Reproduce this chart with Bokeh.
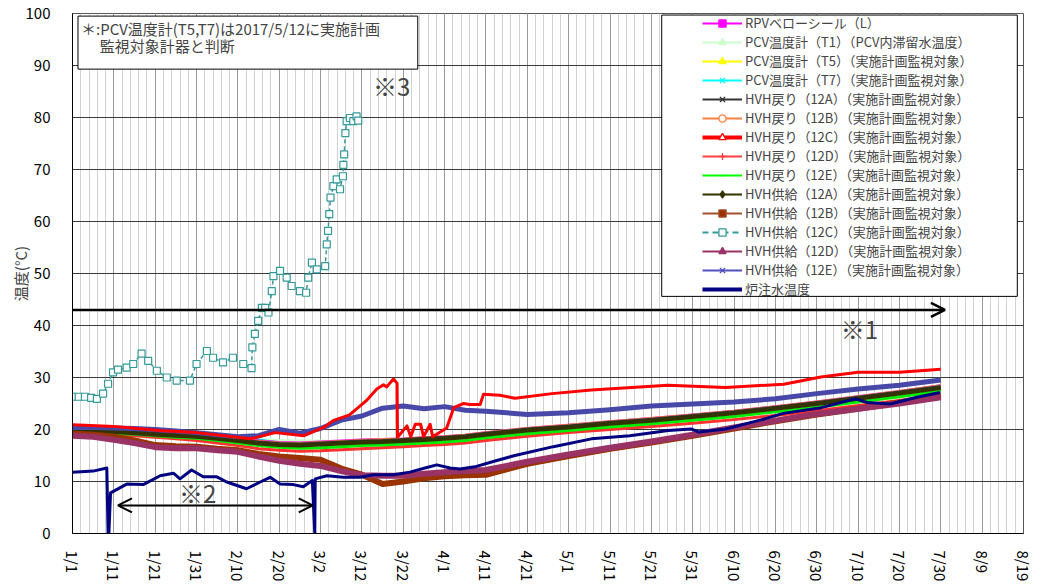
import math
from bokeh.plotting import figure
from bokeh.models import (Range1d, FixedTicker, Legend, LegendItem, BoxAnnotation,
                          Label, Arrow, OpenHead)
from bokeh.embed import file_html
from bokeh.resources import INLINE

FONT = "Noto Sans CJK JP"
NAN = float("nan")

# ---- axis ticks (days since 1/1) ----
tick_days = list(range(0, 231, 10))
tick_labels = ["1/1", "1/11", "1/21", "1/31", "2/10", "2/20", "3/2", "3/12", "3/22",
               "4/1", "4/11", "4/21", "5/1", "5/11", "5/21", "5/31", "6/10", "6/20",
               "6/30", "7/10", "7/20", "7/30", "8/9", "8/19"]

# ---- common day grid for the bundled series ----
grid_day = [0, 5, 10, 15, 20, 25, 30, 35, 40, 45, 50, 55, 60, 65, 70, 75, 80, 85, 90, 95,
            100, 110, 120, 130, 140, 150, 160, 170, 180, 190, 200, 210]

rpv_L = [20.1, 20.0, 19.8, 19.6, 19.3, 19.1, 18.9, 18.5, 18.1, 17.7, 17.4, 17.3, 17.5, 17.7, 17.9, 18.0,
         18.1, 18.3, 18.5, 18.8, 19.3, 20.1, 20.7, 21.4, 22.0, 22.7, 23.4, 24.3, 25.2, 26.2, 27.2, 28.3]
pcv_T1 = [20.0, 19.9, 19.7, 19.5, 19.2, 19.0, 18.8, 18.5, 18.2, 18.0, 17.8, 17.7, 17.7, 17.6, 17.7, 17.8,
          18.0, 18.2, 18.4, 18.7, 19.2, 20.0, 20.6, 21.3, 21.9, 22.6, 23.3, 24.2, 25.1, 26.1, 27.1, 28.2]
pcv_T5 = [19.9, 19.8, 19.6, 19.4, 19.1, 18.9, 18.7, 18.3, 17.9, 17.4, 17.1, 17.0, 17.2, 17.4, 17.6, 17.7,
          17.9, 18.1, 18.3, 18.6, 19.1, 19.9, 20.5, 21.2, 21.8, 22.5, 23.2, 24.1, 25.0, 26.0, 27.0, 28.1]
pcv_T7 = [20.2, 20.1, 19.9, 19.7, 19.5, 19.3, 19.1, 18.8, 18.4, 17.9, 17.3, 17.1, 17.3, 17.5, 17.7, 17.8,
          18.0, 18.2, 18.4, 18.7, 19.2, 20.0, 20.6, 21.3, 21.9, 22.6, 23.3, 24.2, 25.1, 26.1, 27.1, 28.3]
ret_12A = [20.0, 19.9, 19.7, 19.5, 19.2, 19.0, 18.8, 18.4, 18.0, 17.5, 17.2, 17.1, 17.3, 17.5, 17.7, 17.8,
           18.0, 18.2, 18.4, 18.7, 19.2, 20.0, 20.6, 21.3, 21.9, 22.6, 23.3, 24.2, 25.1, 26.1, 27.1, 28.2]
ret_12B = [20.1, 20.0, 19.8, 19.6, 19.3, 19.1, 18.9, 18.5, 18.1, 17.6, 17.3, 17.2, 17.4, 17.6, 17.8, 18.0,
           18.1, 18.3, 18.5, 18.8, 19.3, 20.1, 20.7, 21.4, 22.0, 22.7, 23.4, 24.3, 25.2, 26.2, 27.2, 28.3]
ret_12D = [19.4, 19.3, 19.1, 18.8, 18.5, 18.2, 17.9, 17.4, 16.9, 16.3, 16.0, 15.8, 15.9, 16.1, 16.3, 16.5,
           16.7, 16.9, 17.1, 17.4, 17.9, 18.7, 19.4, 20.0, 20.6, 21.2, 21.9, 22.7, 23.6, 24.6, 25.6, 26.7]
ret_12E = [19.6, 19.5, 19.3, 19.1, 18.8, 18.5, 18.3, 17.9, 17.4, 16.9, 16.6, 16.4, 16.5, 16.7, 16.9, 17.0,
           17.2, 17.4, 17.6, 17.9, 18.4, 19.2, 19.8, 20.5, 21.1, 21.8, 22.5, 23.4, 24.3, 25.3, 26.3, 27.4]
sup_12A = [19.8, 19.7, 19.5, 19.3, 19.0, 18.8, 18.6, 18.2, 17.8, 17.3, 17.0, 16.9, 17.1, 17.3, 17.5, 17.6,
           17.8, 18.0, 18.2, 18.5, 19.0, 19.8, 20.4, 21.1, 21.7, 22.4, 23.1, 24.0, 24.9, 25.9, 26.9, 28.0]
sup_12B = [19.2, 19.0, 18.6, 17.9, 17.0, 16.8, 16.7, 16.3, 16.0, 15.3, 14.8, 14.5, 14.2, 12.5, 11.3, 9.5,
           10.0, 10.6, 11.0, 11.2, 11.3, 13.4, 14.9, 16.3, 17.5, 18.8, 20.2, 21.6, 22.9, 24.0, 25.2, 26.6]
sup_12D = [18.8, 18.6, 18.0, 17.4, 16.6, 16.4, 16.4, 16.0, 15.7, 14.8, 14.0, 13.4, 13.0, 12.0, 11.2, 11.1,
           11.1, 11.5, 11.8, 12.0, 12.2, 13.8, 15.2, 16.5, 17.7, 19.0, 20.4, 21.7, 23.0, 24.0, 25.0, 26.2]
sup_12E = [20.4, 20.4, 20.3, 20.2, 20.0, 19.7, 19.4, 19.0, 18.6, 18.8, 20.0, 19.3, 20.2, 21.8, 22.6, 24.1,
           24.5, 24.0, 24.4, 23.7, 23.5, 22.9, 23.2, 23.8, 24.5, 24.9, 25.3, 25.9, 26.9, 27.8, 28.5, 29.5]

# ---- HVH return 12C (own sampling) ----
ret_12C_day = [0, 10, 21, 30, 43, 49, 56, 61, 63, 67, 71, 73.6, 75.2, 76, 77.6, 78.5, 78.6, 80.9, 81.8,
               82.9, 84.2, 84.9, 86.5, 87.1, 90.5, 92.2, 94.6, 96, 98.6, 99.4, 103.4, 107, 116, 125.5,
               144, 158, 172, 181, 190, 200, 210]
ret_12C = [20.9, 20.6, 19.8, 19.4, 18.2, 19.4, 18.8, 20.5, 21.7, 22.8, 25.5, 27.8, 28.6, 28.2, 29.7, 28.9,
           18.5, 20.7, 18.6, 21.0, 21.0, 18.6, 21.0, 18.6, 20.3, 24.2, 25.0, 24.8, 24.8, 26.8, 26.6, 26.0,
           26.9, 27.6, 28.5, 28.1, 28.7, 30.1, 31.0, 31.0, 31.6]

# ---- HVH supply 12C (own sampling) ----
sup_12C_day = [0, 1.5, 3, 4.5, 5.9, 7.4, 8.6, 9.8, 11, 13.1, 14.7, 16.7, 18.3, 20.4, 22.8, 25.2, 28.4,
               30, 32.5, 34, 36.4, 38.8, 41.3, 43.3, 43.5, 44.1, 44.9, 45.8, 46.6, 47.4, 48.2, 48.6,
               50.2, 51.8, 53, 55, 56.5, 57, 57.9, 59.1, 61.1, 61.5, 61.8, 62.1, 62.4, 63.1, 63.9,
               64.7, 65.4, 65.5, 65.7, 66, 66.3, 67.1, 67.9, 68.7, 69.1]
sup_12C = [26.3, 26.3, 26.3, 26.1, 25.9, 26.9, 28.8, 31.0, 31.5, 31.9, 32.6, 34.6, 33.2, 31.3, 30.0, 29.4,
           29.4, 32.6, 35.1, 33.8, 32.9, 33.8, 32.6, 31.8, 35.8, 38.4, 40.9, 43.4, 43.4, 42.5, 46.6, 49.5,
           50.5, 49.2, 47.6, 46.6, 46.3, 49.2, 52.1, 50.8, 51.4, 55.6, 58.2, 61.4, 64.6, 66.8, 68.1,
           66.2, 68.7, 70.9, 72.9, 77.0, 79.3, 79.9, 79.3, 80.2, 79.4]

# ---- reactor injection water temperature ----
inj_day = [0, 5, 8.3, 8.6, 8.8, 9.2, 13.1, 17.1, 21.2, 24.4, 26, 28.8, 31.6, 34.9, 37.3, 42.1, 45.4,
           47.8, 50.2, 53.4, 55.8, 58.0, 58.6, 58.7, 61.5, 65.5, 69.5, 72.8, 77.6, 81.6, 85.7, 88.1,
           91.3, 93.7, 97.7, 102.4, 107, 116.3, 125.5, 134.8, 144.1, 149.6, 151.5, 158, 167.2, 171.9,
           181.1, 189.4, 192.2, 197.8, 204.2, 209.8]
inj_temp = [11.8, 12.0, 12.6, 0, 0, 7.8, 9.5, 9.4, 11.1, 11.6, 10.5, 12.2, 10.9, 10.9, 9.9, 8.6, 9.9,
            10.8, 9.5, 9.4, 9.0, 10.2, 0, 10.5, 11.1, 10.8, 10.8, 11.3, 11.3, 11.8, 12.7, 13.2,
            12.6, 12.4, 12.9, 14.0, 15.0, 16.7, 18.2, 18.8, 19.8, 20.1, 19.5, 20.1, 22.0, 23.1,
            24.2, 25.9, 25.2, 24.9, 26.2, 27.1]

# ---- legend names ----
names = ["RPVベローシール（L）",
         "PCV温度計（T1）（PCV内滞留水温度）",
         "PCV温度計（T5）（実施計画監視対象）",
         "PCV温度計（T7）（実施計画監視対象）",
         "HVH戻り（12A）（実施計画監視対象）",
         "HVH戻り（12B）（実施計画監視対象）",
         "HVH戻り（12C）（実施計画監視対象）",
         "HVH戻り（12D）（実施計画監視対象）",
         "HVH戻り（12E）（実施計画監視対象）",
         "HVH供給（12A）（実施計画監視対象）",
         "HVH供給（12B）（実施計画監視対象）",
         "HVH供給（12C）（実施計画監視対象）",
         "HVH供給（12D）（実施計画監視対象）",
         "HVH供給（12E）（実施計画監視対象）",
         "炉注水温度"]

p = figure(frame_width=951, frame_height=520, x_range=Range1d(0, 230), y_range=Range1d(0, 100),
           output_backend="svg", toolbar_location=None,
           min_border_left=72, min_border_right=20, min_border_top=13, min_border_bottom=40)
p.background_fill_color = "white"
p.border_fill_color = "white"
p.outline_line_color = "#555555"

p.xaxis.ticker = FixedTicker(ticks=tick_days, minor_ticks=list(range(0, 231, 2)))
p.xaxis.major_label_overrides = {d: l for d, l in zip(tick_days, tick_labels)}
p.xaxis.major_label_orientation = -math.pi / 2
p.yaxis.ticker = FixedTicker(ticks=list(range(0, 101, 10)))
for ax in (p.xaxis, p.yaxis):
    ax.major_tick_line_color = None
    ax.minor_tick_line_color = None
    ax.axis_line_color = "black"
    ax.major_label_text_font = FONT
    ax.major_label_text_font_size = "15px"
    ax.major_label_text_color = "black"
p.xaxis.major_label_standoff = 11
p.yaxis.major_label_standoff = 16
p.yaxis.axis_label = "温度(°C)"
p.yaxis.axis_label_text_font = FONT
p.yaxis.axis_label_text_font_size = "15px"
p.yaxis.axis_label_text_font_style = "normal"
p.yaxis.axis_label_standoff = -8

p.xgrid.grid_line_color = "#9a9a9a"
p.xgrid.minor_grid_line_color = "#d2d2d2"
p.ygrid.grid_line_color = "#3a3a3a"
p.ygrid.grid_line_width = 1.2

# ---- data bands ----
bands = [
    (grid_day, pcv_T1, "#CCFFCC", 4),
    (grid_day, pcv_T5, "#FFFF00", 4),
    (grid_day, pcv_T7, "#00E8E8", 4),
    (grid_day, rpv_L, "#FF00FF", 4),
    (grid_day, ret_12B, "#FF8040", 4),
    (grid_day, ret_12D, "#FF3030", 3),
    (grid_day, ret_12E, "#00EE00", 3),
    (grid_day, ret_12A, "#333333", 4),
    (grid_day, sup_12A, "#333300", 4),
    (grid_day, sup_12B, "#993300", 6),
    (grid_day, sup_12D, "#993366", 6),
    (grid_day, sup_12E, "#4848A8", 5),
    (ret_12C_day, ret_12C, "#FF0000", 3),
]
for xs, ys, col, w in bands:
    p.line(xs, ys, line_color=col, line_width=w, line_join="round")

p.line(sup_12C_day, sup_12C, line_color="#339999", line_width=1.5, line_dash="4 3")
p.scatter(sup_12C_day, sup_12C, marker="square", size=7, line_color="#339999",
          fill_color="white", line_width=1.2)
p.line(inj_day, inj_temp, line_color="#000080", line_width=3, line_join="round")

# ---- note box ----
p.add_layout(BoxAnnotation(left=1.33, right=83.5, top=99.5, bottom=89.3, fill_color="white",
                           fill_alpha=1, line_color="black", line_width=1, line_alpha=1))
p.add_layout(Label(x=2.05, y=97.2, text="＊:PCV温度計(T5,T7)は2017/5/12に実施計画",
                   text_font=FONT, text_font_size="15px", text_baseline="middle"))
p.add_layout(Label(x=6.6, y=93.9, text="監視対象計器と判断",
                   text_font=FONT, text_font_size="15px", text_baseline="middle"))

# ---- annotations ----
p.add_layout(Arrow(end=OpenHead(size=14, line_width=2.5, line_color="black"),
                   x_start=0, y_start=43, x_end=211, y_end=43,
                   line_width=2.5, line_color="black"))
p.add_layout(Arrow(start=OpenHead(size=14, line_width=2, line_color="black"),
                   end=OpenHead(size=14, line_width=2, line_color="black"),
                   x_start=11, y_start=5.4, x_end=58.1, y_end=5.4,
                   line_width=2, line_color="black"))
for tx, ty, t in [(190.3, 39.5, "※1"), (30.3, 7.9, "※2"), (77.2, 86.2, "※3")]:
    p.add_layout(Label(x=tx, y=ty, text=t, text_font=FONT, text_font_size="24px",
                       text_align="center", text_baseline="middle"))

# ---- legend ----
p.add_layout(BoxAnnotation(left=142.5, right=228.5, top=99.7, bottom=45.6, fill_color="white",
                           fill_alpha=1, line_color="black", line_width=1, line_alpha=1))

leg_styles = [
    ("#FF00FF", 2, None, "square", 7, "#FF00FF"),
    ("#CCFFCC", 2, None, "triangle", 6, "#CCFFCC"),
    ("#FFFF00", 2, None, "triangle", 7, "#FFFF00"),
    ("#00FFFF", 2, None, "x", 6, "#00FFFF"),
    ("#333333", 2, None, "x", 5, "#333333"),
    ("#FF8040", 2, None, "circle", 7, "white"),
    ("#FF0000", 4, None, "triangle", 7, "white"),
    ("#FF4040", 2, None, "cross", 6, "#FF4040"),
    ("#00FF00", 2, None, "dash", 5, "#00FF00"),
    ("#333300", 2, None, "diamond", 7, "#333300"),
    ("#A0522D", 2, None, "square", 9, "#993300"),
    ("#339999", 2, "6 4", "square", 7, "white"),
    ("#993366", 2, None, "triangle", 7, "#993366"),
    ("#5050C0", 2, None, "x", 6, "#5050C0"),
    ("#000080", 4, None, None, 0, None),
]
items = []
for name, (lc, lw, dash, mk, ms, fc) in zip(names, leg_styles):
    kw = dict(line_color=lc, line_width=lw)
    if dash:
        kw["line_dash"] = dash
    rl = p.line(x=[NAN], y=[NAN], **kw)
    rs = [rl]
    if mk:
        rm = p.scatter(x=[NAN], y=[NAN], marker=mk, size=ms, line_color=lc, fill_color=fc,
                       line_width=1.3)
        rs.append(rm)
    items.append(LegendItem(label=name, renderers=rs))

legend = Legend(items=items, location=(630, 235), padding=0, margin=0, spacing=0,
                glyph_width=40, glyph_height=18, label_height=18, label_standoff=3,
                label_text_font=FONT, label_text_font_size="13px",
                background_fill_alpha=0, border_line_alpha=0)
p.add_layout(legend)

open("out.html", "w").write(file_html(p, INLINE))
